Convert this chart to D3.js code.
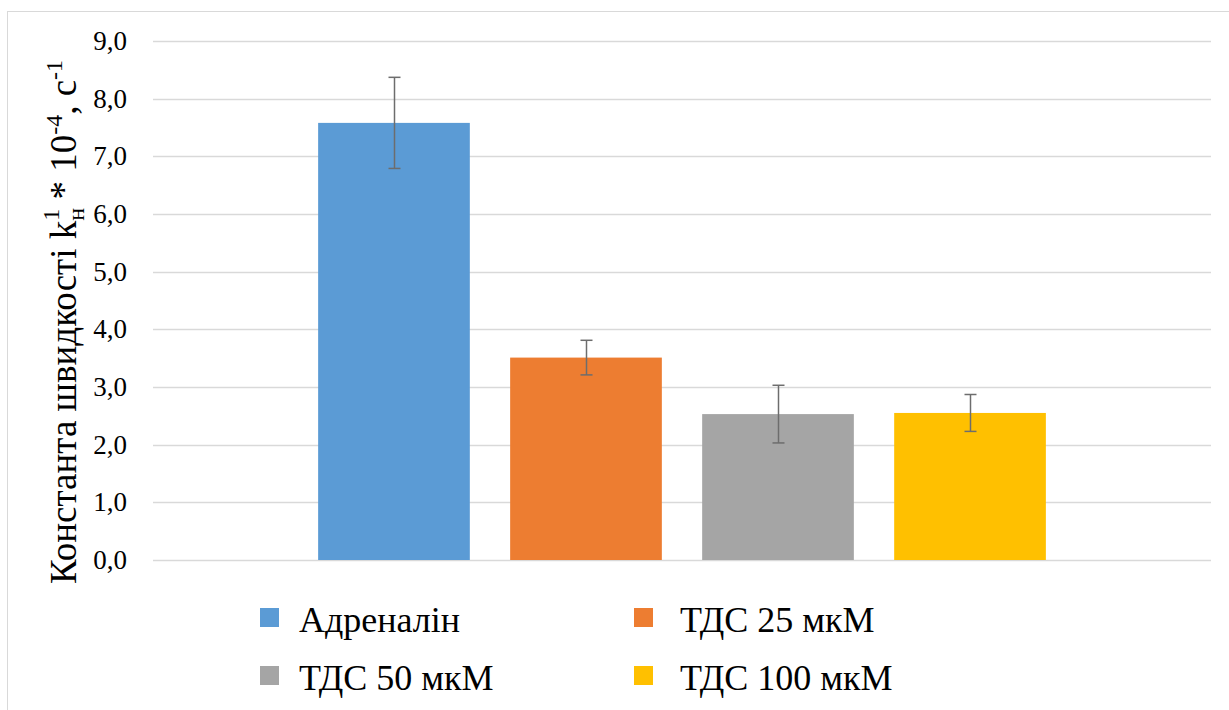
<!DOCTYPE html>
<html>
<head>
<meta charset="utf-8">
<script src="https://cdn.jsdelivr.net/npm/d3@7"></script>
<style>
  body { margin: 0; background: #fff; }
  svg text, svg tspan { font-family: "Liberation Serif", serif !important; }
</style>
</head>
<body>
<svg id="chart" width="1229" height="710"></svg>
<script>
// data
let series = ["Адреналін", "ТДС 25 мкМ", "ТДС 50 мкМ", "ТДС 100 мкМ"];
let values = [7.58, 3.51, 2.53, 2.55];
let errors = [0.79, 0.30, 0.50, 0.32];
let colors = ["#5b9bd5", "#ed7d31", "#a5a5a5", "#ffc000"];
let yTicks = [0, 1, 2, 3, 4, 5, 6, 7, 8, 9];

let serif = '"Liberation Serif", serif';

let svg = d3.select("#chart");

// chart frame
svg.append("rect")
  .attr("x", 7.5)
  .attr("y", 11.5)
  .attr("width", 1240)
  .attr("height", 720)
  .attr("fill", "none")
  .attr("stroke", "#d9d9d9");

let plot = { left: 153, right: 1211, top: 41, bottom: 560 };

let y = d3.scaleLinear().domain([0, 9]).range([plot.bottom, plot.top]);

let x = d3.scaleBand()
  .domain(series)
  .range([plot.left, plot.right])
  .paddingInner(0.21)
  .paddingOuter(0.86);

// grid lines
svg.append("g")
  .selectAll("line")
  .data(yTicks)
  .enter()
  .append("line")
  .attr("x1", plot.left)
  .attr("x2", plot.right)
  .attr("y1", d => Math.round(y(d)) + 0.5)
  .attr("y2", d => Math.round(y(d)) + 0.5)
  .attr("stroke", "#d9d9d9")
  .attr("stroke-width", 1.3);

// y axis labels
let fmt = d => d.toFixed(1).replace(".", ",");
svg.append("g")
  .selectAll("text")
  .data(yTicks)
  .enter()
  .append("text")
  .attr("x", 127)
  .attr("y", d => y(d) + 9)
  .attr("text-anchor", "end")
  .style("font-family", serif, "important")
  .attr("font-size", 27)
  .attr("fill", "#000")
  .text(fmt);

// y axis title
let title = svg.append("text")
  .attr("transform", "translate(76, 322) rotate(-90)")
  .attr("text-anchor", "middle")
  .style("font-family", serif, "important")
  .attr("font-size", 37)
  .attr("fill", "#000");
title.append("tspan").text("Константа швидкості k");
title.append("tspan").attr("font-size", 24).attr("dy", 8).text("н");
title.append("tspan").attr("font-size", 24).attr("dx", -13).attr("dy", -25).text("1");
title.append("tspan").attr("dy", 17).text(" * 10");
title.append("tspan").attr("font-size", 24).attr("dy", -14).text("-4");
title.append("tspan").attr("dy", 14).text(", с");
title.append("tspan").attr("font-size", 24).attr("dy", -14).text("-1");

// bars
svg.append("g")
  .selectAll("rect")
  .data(values)
  .enter()
  .append("rect")
  .attr("x", (d, i) => x(series[i]))
  .attr("width", x.bandwidth())
  .attr("y", d => y(d))
  .attr("height", d => y(0) - y(d))
  .attr("fill", (d, i) => colors[i]);

// error bars
let err = svg.append("g")
  .attr("stroke", "#6d6d6d")
  .attr("stroke-width", 1.5);

values.forEach((v, i) => {
  let cx = Math.round(x(series[i]) + x.bandwidth() / 2) + 0.5;
  let hi = y(v + errors[i]);
  let lo = y(v - errors[i]);
  err.append("line").attr("x1", cx).attr("x2", cx).attr("y1", hi).attr("y2", lo);
  err.append("line").attr("x1", cx - 6).attr("x2", cx + 6).attr("y1", hi).attr("y2", hi);
  err.append("line").attr("x1", cx - 6).attr("x2", cx + 6).attr("y1", lo).attr("y2", lo);
});

// legend
let legendPos = [
  { x: 260, y: 608 },
  { x: 634, y: 608 },
  { x: 260, y: 666 },
  { x: 634, y: 666 }
];

let legend = svg.append("g")
  .selectAll("g")
  .data(series)
  .enter()
  .append("g")
  .attr("transform", (d, i) => `translate(${legendPos[i].x}, ${legendPos[i].y})`);

legend.append("rect")
  .attr("x", 0)
  .attr("y", 0)
  .attr("width", 19)
  .attr("height", 19)
  .attr("fill", (d, i) => colors[i]);

legend.append("text")
  .attr("x", (d, i) => i % 2 ? 46 : 39)
  .attr("y", 24)
  .style("font-family", serif, "important")
  .attr("font-size", 36)
  .attr("fill", "#000")
  .text(d => d);
</script>
</body>
</html>
